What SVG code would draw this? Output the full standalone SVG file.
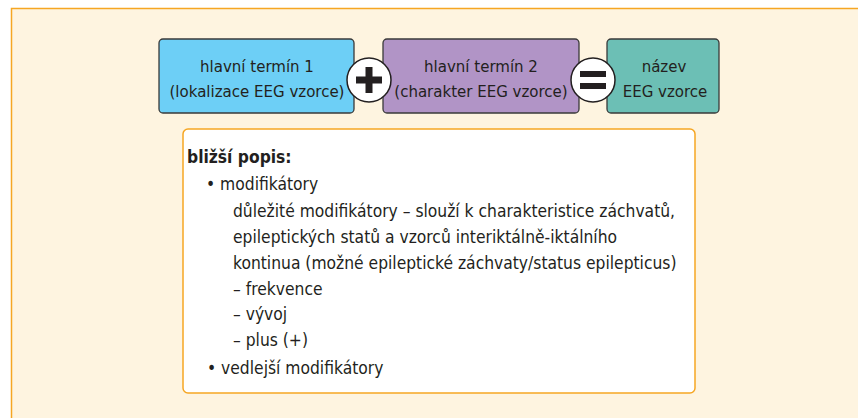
<svg xmlns="http://www.w3.org/2000/svg" width="858" height="418" viewBox="0 0 858 418">
<style>
text{font-family:"DejaVu Sans Condensed","Liberation Sans Narrow","Liberation Sans",sans-serif;fill:#231f20;font-size:17.3px}
.c{text-anchor:middle;font-size:16.7px}
.box{stroke:#3a3a3a;stroke-width:1.3}
.op{fill:#fff;stroke:#231f20;stroke-width:1.5}
.sym{fill:#231f20}
</style>
<rect x="11.5" y="8.5" width="900" height="450" fill="#fef4e0" stroke="#f6a623" stroke-width="1.5"/>
<g id="n1"><rect class="box" x="159" y="39" width="195" height="74" rx="4" fill="#6dcff6"/>
<text class="c" x="257" y="72">hlavní termín 1</text><text class="c" x="257" y="97">(lokalizace EEG vzorce)</text></g>
<g id="n2"><rect class="box" x="383" y="39" width="196" height="74" rx="4" fill="#b194c6"/>
<text class="c" x="481" y="72">hlavní termín 2</text><text class="c" x="481" y="97">(charakter EEG vzorce)</text></g>
<g id="n3"><rect class="box" x="607" y="39" width="112" height="74" rx="4" fill="#6cbfb5"/>
<text class="c" x="664" y="72">název</text><text class="c" x="665" y="97">EEG vzorce</text></g>
<g id="plus"><circle class="op" cx="369" cy="80" r="22"/><rect class="sym" x="356" y="76.5" width="26" height="7"/><rect class="sym" x="365.5" y="67" width="7" height="26"/></g>
<g id="equals"><circle class="op" cx="593" cy="80" r="22"/><rect class="sym" x="580" y="71" width="26" height="6"/><rect class="sym" x="580" y="83" width="26" height="6"/></g>
<g id="desc"><rect x="183" y="129" width="512" height="264" rx="5" fill="#fff" stroke="#f6a623" stroke-width="1.5"/>
<text x="187" y="163" font-weight="bold">bližší popis:</text>
<text x="206" y="190">• modifikátory</text>
<text x="233" y="217">důležité modifikátory – slouží k charakteristice záchvatů,</text>
<text x="233" y="243">epileptických statů a vzorců interiktálně-iktálního</text>
<text x="233" y="269">kontinua (možné epileptické záchvaty/status epilepticus)</text>
<text x="233" y="295">– frekvence</text>
<text x="233" y="320">– vývoj</text>
<text x="233" y="346">– plus (+)</text>
<text x="207" y="374">• vedlejší modifikátory</text>
</g>
<g id="connectors"/>
</svg>
